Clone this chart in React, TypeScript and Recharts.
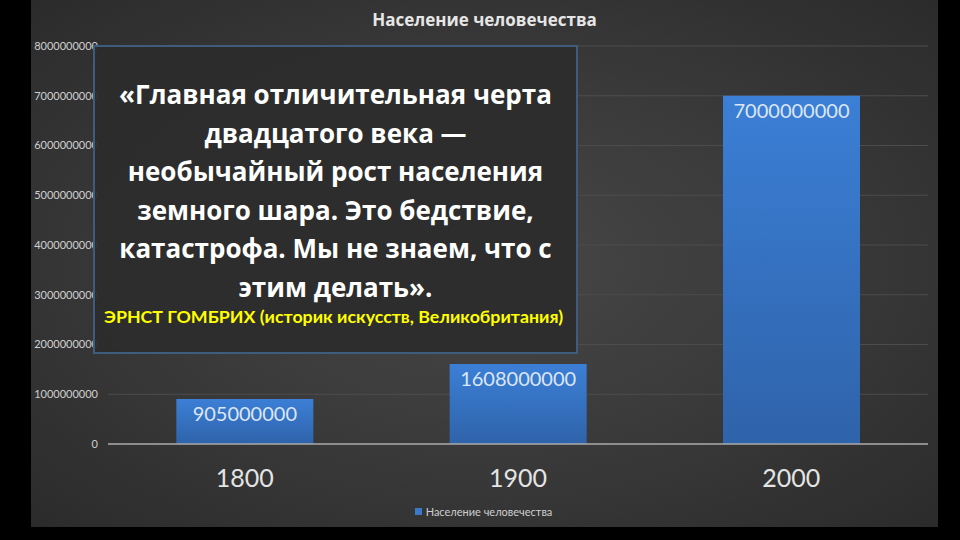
import React from "react";
import {
  BarChart,
  Bar,
  XAxis,
  YAxis,
  CartesianGrid,
  Legend,
  LabelList,
} from "recharts";

const YEARS = ["1800", "1900", "2000"];
const POPULATION = [905000000, 1608000000, 7000000000];
const Y_TICKS = [
  0, 1000000000, 2000000000, 3000000000, 4000000000, 5000000000, 6000000000,
  7000000000, 8000000000,
];
const SERIES_NAME = "Население человечества";
const QUOTE_LINES = [
  "«Главная отличительная черта",
  "двадцатого века —",
  "необычайный рост населения",
  "земного шара. Это бедствие,",
  "катастрофа. Мы не знаем, что с",
  "этим делать».",
];
const AUTHOR = "ЭРНСТ ГОМБРИХ (историк искусств, Великобритания)";

const chartData = YEARS.map((year, i) => ({ year, value: POPULATION[i] }));

const FONT = "Lato, 'Open Sans', sans-serif";
const WIDE_FONT = "'Open Sans', Lato, sans-serif";

function LegendContent() {
  return (
    <div
      style={{
        display: "flex",
        justifyContent: "center",
        alignItems: "center",
        gap: 4,
        fontFamily: FONT,
        fontSize: 11,
        color: "#cfcfcf",
        paddingLeft: 8,
        paddingTop: 5,
      }}
    >
      <span
        style={{ width: 7, height: 7, background: "#3b78c8", display: "inline-block" }}
      />
      <span>{SERIES_NAME}</span>
    </div>
  );
}

export default function App() {
  return (
    <div
      style={{
        position: "absolute",
        left: 0,
        top: 0,
        width: 960,
        height: 540,
        background: "#000",
        overflow: "hidden",
      }}
    >
      <div
        style={{
          position: "absolute",
          left: 31,
          top: 0,
          width: 907,
          height: 527,
          background:
            "radial-gradient(ellipse at 50% 50%, #474747 0%, #3a3a3a 50%, #2b2b2b 100%)",
        }}
      >
        <BarChart
          width={907}
          height={527}
          data={chartData}
          margin={{ top: 46, right: 10, left: 0, bottom: 0 }}
          barCategoryGap="25%"
        >
          <defs>
            <linearGradient id="barFill" x1="0" y1="0" x2="0" y2="1">
              <stop offset="0%" stopColor="#3b7fd6" />
              <stop offset="100%" stopColor="#2f63aa" />
            </linearGradient>
          </defs>
          <CartesianGrid vertical={false} stroke="#4c4c4c" strokeWidth={1} />
          <XAxis
            dataKey="year"
            axisLine={{ stroke: "#a8a8a8", strokeWidth: 1.5 }}
            tickLine={false}
            tickSize={0}
            tickMargin={25}
            height={56}
            tick={{ fill: "#e4e4e4", fontSize: 25, fontFamily: FONT }}
          />
          <YAxis
            width={77}
            domain={[0, 8000000000]}
            ticks={Y_TICKS}
            interval={0}
            axisLine={false}
            tickLine={false}
            tickSize={0}
            tickMargin={10}
            tickFormatter={(v: number) => String(v)}
            tick={{ fill: "#d0d0d0", fontSize: 11, fontFamily: FONT }}
          />
          <Legend verticalAlign="bottom" height={27} content={<LegendContent />} />
          <Bar
            dataKey="value"
            name={SERIES_NAME}
            fill="url(#barFill)"
            isAnimationActive={false}
          >
            <LabelList
              dataKey="value"
              position="insideTop"
              offset={8}
              fill="#dce6f4"
              fontSize={20}
              fontFamily={FONT}
            />
          </Bar>
        </BarChart>

        <div
          style={{
            position: "absolute",
            left: 0,
            top: 8,
            width: 907,
            textAlign: "center",
            fontFamily: WIDE_FONT,
            fontWeight: 700,
            fontSize: 17,
            color: "#e6e6e6",
          }}
        >
          {SERIES_NAME}
        </div>

        <div
          style={{
            position: "absolute",
            left: 62,
            top: 45,
            width: 485,
            height: 309,
            boxSizing: "border-box",
            background: "rgba(44,44,44,0.95)",
            border: "2px solid #3e5c7c",
            fontFamily: WIDE_FONT,
          }}
        >
          <div
            style={{
              marginTop: 28,
              textAlign: "center",
              color: "#ffffff",
              fontWeight: 700,
              fontSize: 26,
              lineHeight: "38.5px",
              whiteSpace: "nowrap",
            }}
          >
            {QUOTE_LINES.map((line, i) => (
              <div key={i}>{line}</div>
            ))}
          </div>
          <div
            style={{
              marginTop: -1,
              paddingLeft: 9,
              color: "#ffff00",
              fontFamily: FONT,
              fontWeight: 700,
              fontSize: 17.8,
              whiteSpace: "nowrap",
            }}
          >
            {AUTHOR}
          </div>
        </div>
      </div>
    </div>
  );
}
